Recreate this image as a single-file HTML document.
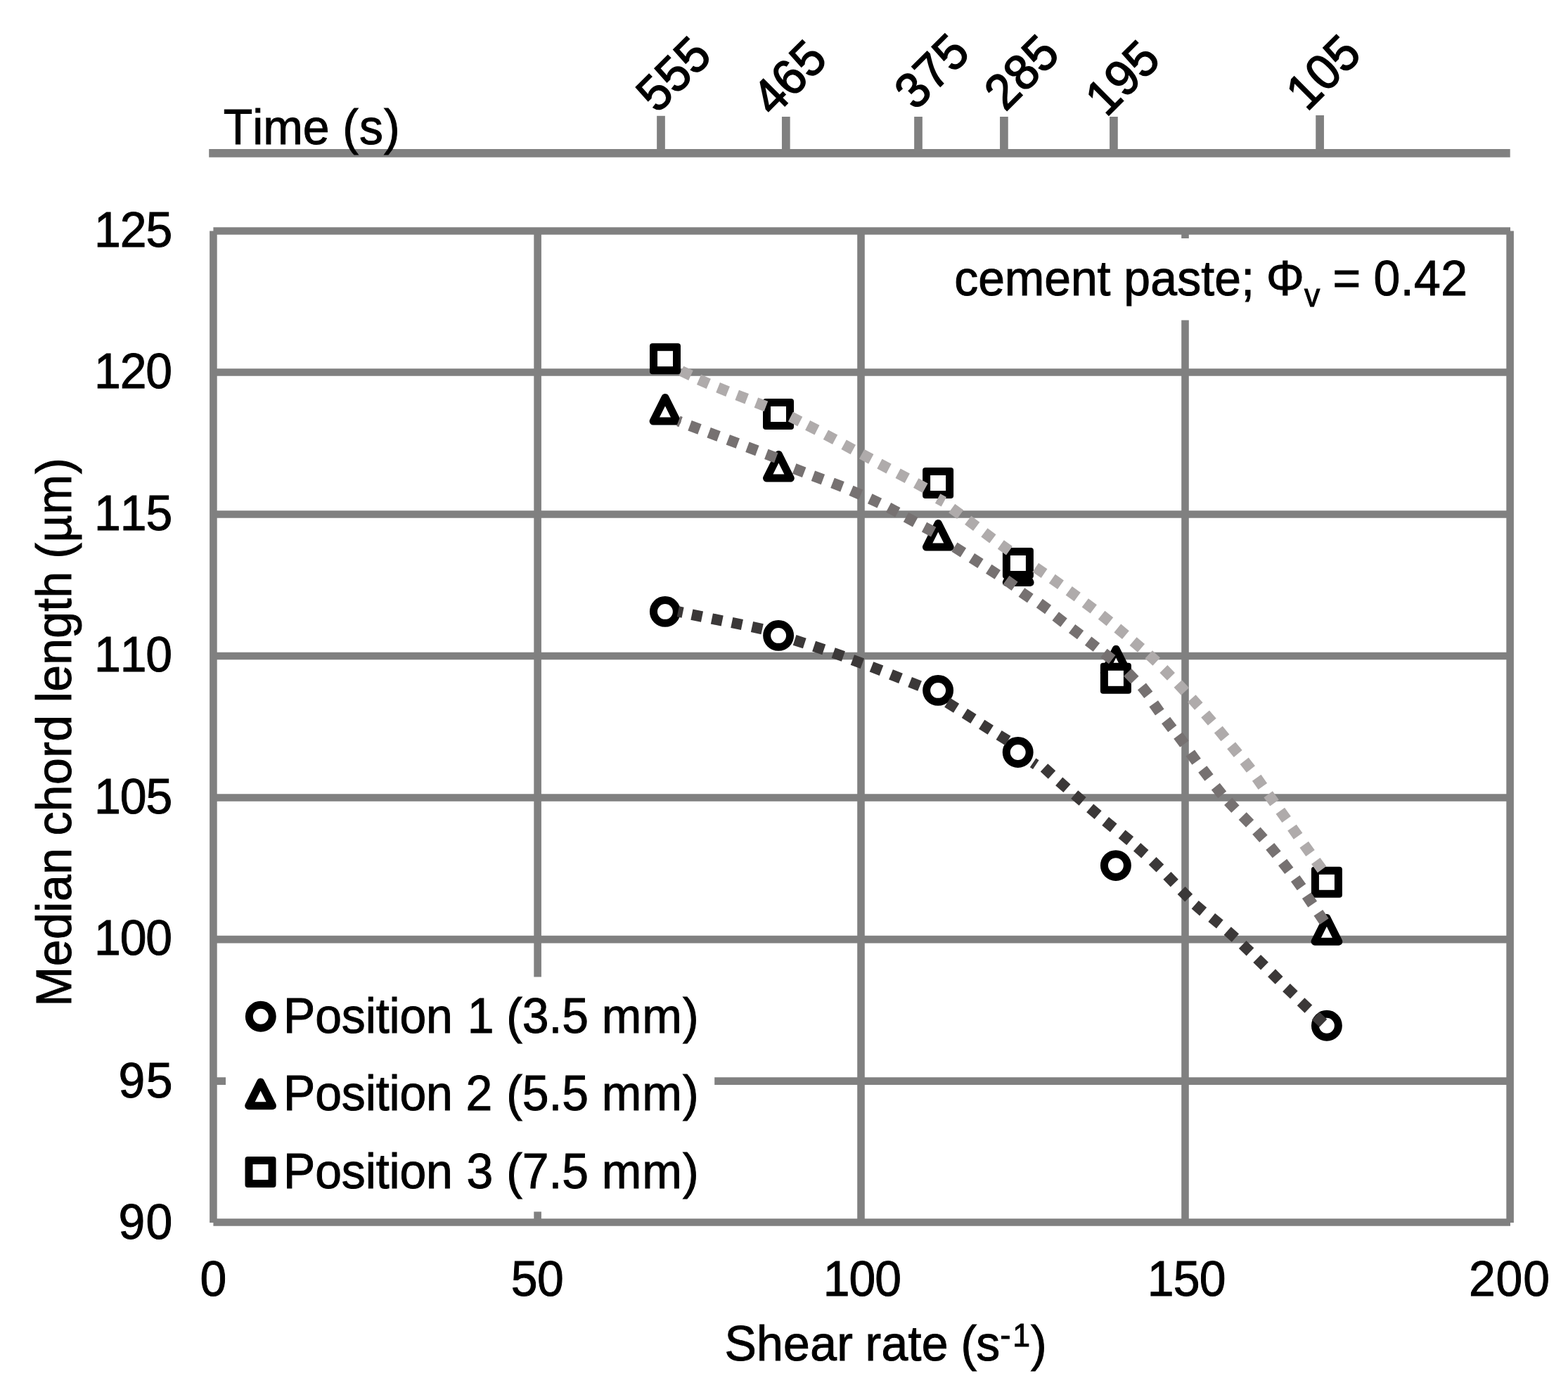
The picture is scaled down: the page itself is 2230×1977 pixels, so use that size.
<!DOCTYPE html>
<html lang="en"><head><meta charset="utf-8"><title>Median chord length vs shear rate</title>
<style>html,body{margin:0;padding:0;background:#fff}body{width:2230px;height:1977px;overflow:hidden}svg{display:block}text{font-family:"Liberation Sans",Arial,Helvetica,sans-serif;fill:#000;stroke:#000;stroke-width:1.0;white-space:pre;font-kerning:none}</style>
</head><body>
<svg width="2230" height="1977" viewBox="0 0 2230 1977">
<rect x="0" y="0" width="2230" height="1977" fill="#fff"/>
<g stroke="#808080" fill="none">
<line x1="297.2" y1="217.9" x2="2147.7" y2="217.9" stroke-width="11.8"/>
<line x1="940.0" y1="164.8" x2="940.0" y2="213" stroke-width="11.7"/>
<line x1="1117.8" y1="166.0" x2="1117.8" y2="213" stroke-width="11.7"/>
<line x1="1306.0" y1="166.0" x2="1306.0" y2="213" stroke-width="11.7"/>
<line x1="1427.9" y1="166.0" x2="1427.9" y2="213" stroke-width="11.7"/>
<line x1="1583.9" y1="166.0" x2="1583.9" y2="213" stroke-width="11.7"/>
<line x1="1877.1" y1="164.0" x2="1877.1" y2="213" stroke-width="11.7"/>
</g>
<g stroke="#808080" fill="none" stroke-width="10.6">
<line x1="303.4" y1="328.5" x2="2148.0" y2="328.5"/>
<line x1="303.4" y1="529.5" x2="2148.0" y2="529.5"/>
<line x1="303.4" y1="731.5" x2="2148.0" y2="731.5"/>
<line x1="303.4" y1="933.0" x2="2148.0" y2="933.0"/>
<line x1="303.4" y1="1134.5" x2="2148.0" y2="1134.5"/>
<line x1="303.4" y1="1336.1" x2="2148.0" y2="1336.1"/>
<line x1="303.4" y1="1537.6" x2="2148.0" y2="1537.6"/>
<line x1="303.4" y1="1738.5" x2="2148.0" y2="1738.5"/>
<line x1="303.4" y1="328.5" x2="303.4" y2="1738.9"/>
<line x1="764.6" y1="328.5" x2="764.6" y2="1738.9"/>
<line x1="1224.5" y1="328.5" x2="1224.5" y2="1738.9"/>
<line x1="1685.5" y1="328.5" x2="1685.5" y2="1738.9"/>
<line x1="2147.6" y1="328.5" x2="2147.6" y2="1738.9"/>
</g>
<rect x="321" y="1389.5" width="695.2" height="333.9" fill="#fff"/>
<rect x="1345" y="339" width="760" height="116.4" fill="#fff"/>
<g stroke="#000" stroke-width="11" fill="#fff" stroke-linejoin="round">
<circle cx="945.9" cy="869.9" r="16.45"/>
<circle cx="1107.1" cy="903.9" r="16.45"/>
<circle cx="1334.1" cy="981.9" r="16.45"/>
<circle cx="1447.7" cy="1070.0" r="16.45"/>
<circle cx="1586.9" cy="1231.1" r="16.45"/>
<circle cx="1886.9" cy="1458.8" r="16.45"/>
<path d="M946.0,565.4 L962.9,599.1 L929.1,599.1 Z"/>
<path d="M1107.4,646.4 L1124.3,680.1 L1090.5,680.1 Z"/>
<path d="M1334.3,744.4 L1351.2,778.1 L1317.4,778.1 Z"/>
<path d="M1448.2,794.7 L1465.1,828.4 L1431.3,828.4 Z"/>
<path d="M1587.2,923.2 L1604.1,956.9 L1570.3,956.9 Z"/>
<path d="M1886.9,1305.5 L1903.8,1339.2 L1870.0,1339.2 Z"/>
<rect x="924.0" y="488.2" width="44" height="44" rx="4" fill="#000" stroke="none"/><rect x="935.0" y="499.2" width="22" height="22" fill="#fff" stroke="none"/>
<rect x="1085.0" y="567.0" width="44" height="44" rx="4" fill="#000" stroke="none"/><rect x="1096.0" y="578.0" width="22" height="22" fill="#fff" stroke="none"/>
<rect x="1312.1" y="665.0" width="44" height="44" rx="4" fill="#000" stroke="none"/><rect x="1323.1" y="676.0" width="22" height="22" fill="#fff" stroke="none"/>
<rect x="1425.9" y="779.0" width="44" height="44" rx="4" fill="#000" stroke="none"/><rect x="1436.9" y="790.0" width="22" height="22" fill="#fff" stroke="none"/>
<rect x="1564.9" y="942.8" width="44" height="44" rx="4" fill="#000" stroke="none"/><rect x="1575.9" y="953.8" width="22" height="22" fill="#fff" stroke="none"/>
<rect x="1864.9" y="1232.8" width="44" height="44" rx="4" fill="#000" stroke="none"/><rect x="1875.9" y="1243.8" width="22" height="22" fill="#fff" stroke="none"/>
</g>
<g fill="none" stroke-width="15.4" stroke-linecap="butt">
<path stroke="#3b3838" d="M964.3,869.8L971.1,871.2M983.9,874.1L998.5,877.1M1012.4,880.0L1027.2,883.0M1040.8,885.5L1055.4,888.5M1069.5,891.6L1084.1,894.8M1130.1,910.4L1144.3,915.0M1157.6,919.1L1171.8,923.9M1185.2,928.6L1199.4,933.6M1212.4,938.5L1226.4,943.7M1239.5,948.4L1253.5,953.8M1267.0,959.3L1281.0,964.9M1294.1,970.1L1308.1,975.7M1347.3,999.2L1360.1,1007.2M1371.9,1014.4L1384.5,1022.4M1396.2,1030.3L1408.8,1038.3M1420.6,1045.5L1433.4,1053.3M1469.1,1084.9L1473.3,1087.7M1485.0,1091.8L1496.0,1102.0M1506.2,1111.4L1517.4,1121.2M1528.2,1130.1L1539.6,1139.9M1550.2,1149.3L1561.6,1159.1M1572.1,1168.1L1583.7,1177.5M1595.6,1186.4L1607.2,1196.0M1617.1,1204.8L1628.3,1214.8M1639.1,1224.6L1649.9,1235.1M1659.9,1245.3L1670.3,1256.1M1680.1,1266.5L1690.7,1277.2M1699.7,1286.7L1711.1,1296.6M1723.2,1305.1L1734.8,1314.5M1745.7,1323.9L1756.9,1333.9M1767.2,1343.5L1778.0,1353.9M1787.7,1363.4L1798.5,1374.0M1808.5,1383.8L1819.1,1394.4M1829.5,1404.6L1840.3,1415.0M1850.1,1424.7L1860.9,1435.1M1871.1,1444.9L1881.9,1455.3"/>
<path stroke="#767171" d="M964.9,598.9L968.1,600.1M981.0,605.3L995.0,610.5M1008.1,615.3L1022.1,620.5M1035.3,625.4L1049.3,630.6M1062.9,635.8L1076.9,641.0M1089.8,645.9L1103.8,651.1M1129.7,666.5L1143.7,671.9M1156.4,676.8L1170.4,682.0M1184.0,686.9L1198.0,692.3M1210.5,697.7L1224.2,703.6M1237.2,709.2L1250.8,715.6M1263.6,721.7L1276.8,728.7M1288.5,735.6L1301.7,742.8M1314.5,749.6L1327.7,756.6M1357.4,778.0L1370.0,786.0M1381.9,793.4L1394.5,801.4M1406.2,809.2L1418.8,817.4M1430.9,825.0L1443.1,833.8M1452.9,842.5L1465.3,851.0M1478.3,858.1L1490.6,866.9M1501.2,876.4L1513.0,885.6M1524.6,894.1L1536.6,903.1M1547.6,911.6L1559.4,920.8M1569.9,928.9L1581.7,938.1M1603.6,956.3L1614.0,967.1M1623.9,976.4L1633.3,988.2M1640.7,1000.8L1649.3,1013.0M1658.1,1024.6L1667.3,1036.4M1675.4,1046.1L1684.4,1058.1M1692.8,1071.1L1701.6,1083.3M1710.3,1094.1L1719.5,1105.9M1728.8,1118.7L1738.2,1130.3M1746.7,1139.8L1756.9,1150.8M1767.2,1160.6L1777.6,1171.4M1786.9,1181.7L1796.9,1192.9M1806.3,1203.8L1815.7,1215.4M1824.1,1226.5L1833.3,1238.4M1842.2,1249.6L1851.0,1261.8M1858.3,1273.7L1866.7,1286.1M1874.9,1298.2L1883.3,1310.6"/>
<path stroke="#afabab" d="M968.9,527.6L982.5,534.0M994.0,539.9L1007.8,545.9M1021.1,551.2L1035.1,556.8M1048.2,561.9L1062.2,567.3M1075.4,572.6L1089.4,578.0M1124.4,592.7L1137.8,599.5M1148.6,604.9L1162.0,611.7M1174.4,618.3L1187.6,625.3M1200.1,632.2L1213.3,639.4M1225.6,645.8L1238.8,652.9M1250.9,659.6L1264.1,666.6M1277.1,673.3L1290.3,680.3M1302.7,687.1L1315.9,694.3M1333.6,708.9L1342.4,713.7M1353.7,723.0L1365.7,731.8M1376.7,739.8L1388.7,748.8M1399.9,757.4L1411.9,766.4M1423.3,774.4L1435.5,783.2M1472.7,807.1L1485.1,815.6M1496.3,823.1L1508.5,831.7M1520.2,840.2L1532.2,849.0M1543.3,857.4L1555.3,866.4M1566.6,874.8L1578.4,884.2M1589.3,893.5L1600.9,903.1M1611.6,912.1L1623.0,921.9M1633.7,930.9L1644.7,941.1M1654.9,951.5L1665.5,962.3M1675.2,972.4L1685.4,983.4M1694.8,993.3L1704.8,1004.5M1714.1,1015.4L1723.8,1026.8M1732.8,1037.7L1742.4,1049.3M1751.1,1060.4L1760.7,1072.0M1769.7,1082.3L1778.9,1094.1M1787.2,1106.3L1795.8,1118.5M1803.7,1129.8L1812.5,1142.0M1820.8,1153.3L1829.6,1165.5M1837.5,1177.1L1846.1,1189.3M1854.7,1201.3L1863.5,1213.5M1871.3,1224.5L1880.1,1236.6"/>
</g>
<g stroke="#000" stroke-width="11" fill="#fff" stroke-linejoin="round">
<circle cx="370.8" cy="1445.8" r="16.45"/>
<path d="M370.6,1539.0 L387.5,1572.7 L353.7,1572.7 Z"/>
<rect x="348.5" y="1645.0" width="44" height="44" rx="4" fill="#000" stroke="none"/><rect x="359.5" y="1656.0" width="22" height="22" fill="#fff" stroke="none"/>
</g>
<g>
<text transform="scale(0.970 1.012)" font-size="70"><tspan x="327.66" y="202.47" letter-spacing="-0.05">Time</tspan> <tspan x="502.23" y="202.47" letter-spacing="1.20">(s)</tspan></text>
<text transform="scale(0.970 1.012)" font-size="70"><tspan x="138.14" y="346.64" letter-spacing="-0.99">125</tspan></text>
<text transform="scale(0.970 1.012)" font-size="70"><tspan x="138.14" y="545.75" letter-spacing="-1.11">120</tspan></text>
<text transform="scale(0.970 1.012)" font-size="70"><tspan x="138.14" y="745.26" letter-spacing="-0.99">115</tspan></text>
<text transform="scale(0.970 1.012)" font-size="70"><tspan x="138.14" y="943.77" letter-spacing="-1.11">110</tspan></text>
<text transform="scale(0.970 1.012)" font-size="70"><tspan x="138.14" y="1143.38" letter-spacing="-0.99">105</tspan></text>
<text transform="scale(0.970 1.012)" font-size="70"><tspan x="138.14" y="1342.29" letter-spacing="-1.11">100</tspan></text>
<text transform="scale(0.970 1.012)" font-size="70"><tspan x="173.85" y="1542.09" letter-spacing="1.48">95</tspan></text>
<text transform="scale(0.970 1.012)" font-size="70"><tspan x="173.85" y="1741.50" letter-spacing="1.17">90</tspan></text>
<text transform="scale(0.970 1.012)" font-size="70"><tspan x="293.28" y="1821.34">0</tspan></text>
<text transform="scale(0.970 1.012)" font-size="70"><tspan x="749.19" y="1821.34" letter-spacing="-0.36">50</tspan></text>
<text transform="scale(0.970 1.012)" font-size="70"><tspan x="1206.90" y="1821.34" letter-spacing="-1.01">100</tspan></text>
<text transform="scale(0.970 1.012)" font-size="70"><tspan x="1682.26" y="1821.34" letter-spacing="-0.85">150</tspan></text>
<text transform="scale(0.970 1.012)" font-size="70"><tspan x="2153.49" y="1821.34" letter-spacing="1.00">200</tspan></text>
<text transform="scale(0.970 1.012)" font-size="70"><tspan x="415.47" y="1451.58" letter-spacing="-0.10">Position</tspan> <tspan x="685.35" y="1451.58">1</tspan> <tspan x="742.54" y="1451.58" letter-spacing="-0.09">(3.5</tspan> <tspan x="882.19" y="1451.58" letter-spacing="1.06">mm)</tspan></text>
<text transform="scale(0.970 1.012)" font-size="70"><tspan x="415.47" y="1559.98" letter-spacing="-0.10">Position</tspan> <tspan x="682.97" y="1559.98">2</tspan> <tspan x="742.54" y="1559.98" letter-spacing="-0.09">(5.5</tspan> <tspan x="882.19" y="1559.98" letter-spacing="1.06">mm)</tspan></text>
<text transform="scale(0.970 1.012)" font-size="70"><tspan x="415.47" y="1669.96" letter-spacing="-0.10">Position</tspan> <tspan x="684.05" y="1669.96">3</tspan> <tspan x="742.54" y="1669.96" letter-spacing="-0.09">(7.5</tspan> <tspan x="882.19" y="1669.96" letter-spacing="1.06">mm)</tspan></text>
<text transform="scale(0.970 1.012)" font-size="70"><tspan x="1399.36" y="414.92" letter-spacing="-0.12">cement</tspan> <tspan x="1647.65" y="414.92" letter-spacing="0.21">paste;</tspan> <tspan x="1856.48" y="414.92">Φ</tspan><tspan x="1912.26" y="430.73" font-size="46">v</tspan> <tspan x="1954.24" y="414.92">=</tspan> <tspan x="2014.04" y="414.92" letter-spacing="0.39">0.42</tspan></text>
<text transform="scale(0.970 1.012)" font-size="70"><tspan x="1062.30" y="1912.06" letter-spacing="0.34">Shear</tspan> <tspan x="1268.53" y="1912.06" letter-spacing="0.37">rate</tspan> <tspan x="1408.83" y="1912.06" letter-spacing="-0.85">(s</tspan><tspan x="1466.44" y="1892.00" letter-spacing="2.97" font-size="46">-1</tspan><tspan x="1511.22" y="1912.06">)</tspan></text>
<text transform="translate(101.10 1426.30) rotate(-90) scale(0.970 1.012)" font-size="70"><tspan x="-5.25" y="0" letter-spacing="0.55">Median</tspan> <tspan x="245.13" y="0" letter-spacing="0.42">chord</tspan> <tspan x="440.39" y="0" letter-spacing="0.28">length</tspan> <tspan x="650.99" y="0" letter-spacing="0.89">(µm)</tspan></text>
<text transform="translate(934.80 162.40) rotate(-45) scale(0.970 1.012)" font-size="70" letter-spacing="0.00" style="stroke-width:1.6">555</text>
<text transform="translate(1099.40 167.40) rotate(-45) scale(0.970 1.012)" font-size="70" letter-spacing="0.00" style="stroke-width:1.6">465</text>
<text transform="translate(1302.00 158.40) rotate(-45) scale(0.970 1.012)" font-size="70" letter-spacing="0.00" style="stroke-width:1.6">375</text>
<text transform="translate(1429.80 159.80) rotate(-45) scale(0.970 1.012)" font-size="70" letter-spacing="0.00" style="stroke-width:1.6">285</text>
<text transform="translate(1573.20 167.80) rotate(-45) scale(0.970 1.012)" font-size="70" letter-spacing="0.00" style="stroke-width:1.6">195</text>
<text transform="translate(1858.80 159.80) rotate(-45) scale(0.970 1.012)" font-size="70" letter-spacing="0.00" style="stroke-width:1.6">105</text>
</g>
</svg>
</body></html>
